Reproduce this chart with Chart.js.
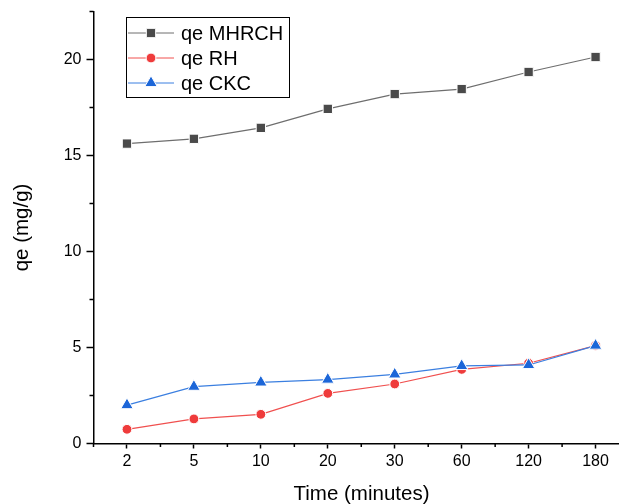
<!DOCTYPE html>
<html>
<head>
<meta charset="utf-8">
<script src="https://cdn.jsdelivr.net/npm/chart.js@4.4.1/dist/chart.umd.min.js"></script>
<style>
  html, body { margin: 0; padding: 0; background: #fff; }
  canvas { display: block; }
</style>
</head>
<body>
<canvas id="qe-chart" width="619" height="504"></canvas>
<script>
// contact time (min) and adsorbed amount for each adsorbent
const categories = ['2', '5', '10', '20', '30', '60', '120', '180'];
const qeMHRCH = [15.62, 15.87, 16.44, 17.43, 18.2, 18.46, 19.35, 20.13];
const qeRH = [0.74, 1.28, 1.52, 2.61, 3.1, 3.86, 4.18, 5.1];
const qeCKC = [2.0, 2.96, 3.18, 3.33, 3.6, 4.04, 4.09, 5.1];
const yTicks = [0, 5, 10, 15, 20];

const FONT = '"Liberation Sans", Arial, sans-serif';

const toPoints = arr => arr.map((v, i) => ({ x: i, y: v }));

// minor ticks, axis titles and the boxed legend
const extras = {
  id: 'extras',
  afterDraw(chart) {
    const ctx = chart.ctx;
    const x = chart.scales.x, y = chart.scales.y;
    const area = chart.chartArea;
    ctx.save();
    ctx.strokeStyle = '#000';
    ctx.lineWidth = 1.5;
    ctx.beginPath();
    for (let v = -0.5; v <= x.max; v += 1) {
      const px = x.getPixelForValue(v);
      ctx.moveTo(px, area.bottom);
      ctx.lineTo(px, area.bottom + 3.5);
    }
    for (let v = 2.5; v <= y.max; v += 5) {
      const py = y.getPixelForValue(v);
      ctx.moveTo(area.left, py);
      ctx.lineTo(area.left - 4, py);
    }
    ctx.stroke();

    // axis titles
    ctx.fillStyle = '#000';
    ctx.font = '20.5px ' + FONT;
    ctx.textAlign = 'center';
    ctx.textBaseline = 'middle';
    ctx.fillText('Time (minutes)', area.left + 268, 494);
    ctx.translate(22, (area.top + area.bottom) / 2);
    ctx.rotate(-Math.PI / 2);
    ctx.fillText('qe (mg/g)', 0, 0);
    ctx.restore();

    // legend
    ctx.save();
    const bx = 126, by = 17, bw = 163, bh = 80;
    ctx.strokeStyle = '#000';
    ctx.lineWidth = 1;
    ctx.strokeRect(bx + 0.5, by + 0.5, bw, bh);
    ctx.font = '20px ' + FONT;
    ctx.textAlign = 'left';
    ctx.textBaseline = 'middle';
    chart.data.datasets.forEach((ds, i) => {
      const ry = 33 + i * 25;
      ctx.strokeStyle = ds.borderColor;
      ctx.lineWidth = 1;
      ctx.beginPath();
      ctx.moveTo(128, ry);
      ctx.lineTo(174, ry);
      ctx.stroke();
      ctx.fillStyle = ds.pointBackgroundColor;
      ctx.strokeStyle = ds.pointBorderColor;
      ctx.lineWidth = ds.pointBorderWidth;
      Chart.helpers.drawPoint(ctx, { pointStyle: ds.pointStyle, radius: ds.pointRadius, borderWidth: ds.pointBorderWidth }, 151, ry);
      ctx.fillStyle = '#000';
      ctx.fillText(ds.label, 181, ry + 1);
    });
    ctx.restore();
  }
};

// keep the plot edges fixed regardless of label overhang
const noEdgePadding = s => {
  s.paddingLeft = 0;
  s.paddingRight = 0;
  s.paddingTop = 0;
  s.paddingBottom = 0;
};

new Chart(document.getElementById('qe-chart').getContext('2d'), {
  type: 'line',
  data: {
    datasets: [
      {
        label: 'qe MHRCH',
        data: toPoints(qeMHRCH),
        borderColor: '#6e6e6e',
        borderWidth: 1.2,
        pointStyle: 'rect',
        pointRadius: 6.6,
        pointBackgroundColor: '#4a4a4a',
        pointBorderColor: '#ffffff',
        pointBorderWidth: 1,
        order: 2
      },
      {
        label: 'qe RH',
        data: toPoints(qeRH),
        borderColor: '#f0504f',
        borderWidth: 1.2,
        pointStyle: 'circle',
        pointRadius: 4.9,
        pointBackgroundColor: '#ef3b3b',
        pointBorderColor: '#ffffff',
        pointBorderWidth: 1,
        order: 1
      },
      {
        label: 'qe CKC',
        data: toPoints(qeCKC),
        borderColor: '#3b7fe0',
        borderWidth: 1.2,
        pointStyle: 'triangle',
        pointRadius: 7.2,
        pointBackgroundColor: '#1c66d8',
        pointBorderColor: '#ffffff',
        pointBorderWidth: 1,
        order: 0
      }
    ]
  },
  options: {
    responsive: false,
    animation: false,
    devicePixelRatio: 1,
    layout: { autoPadding: false, padding: { top: 11.5, right: 0, left: 0, bottom: 0 } },
    plugins: {
      legend: { display: false },
      tooltip: { enabled: false }
    },
    scales: {
      x: {
        type: 'linear',
        min: -0.5,
        max: 7.35,
        afterBuildTicks: s => { s.ticks = categories.map((c, i) => ({ value: i })); },
        afterFit: s => { s.height = 60.5; noEdgePadding(s); },
        ticks: {
          callback: v => categories[v],
          color: '#000',
          font: { family: FONT, size: 16 },
          padding: 3,
          maxRotation: 0,
          autoSkip: false
        },
        grid: { drawOnChartArea: false, tickLength: 5, tickColor: '#000', tickWidth: 1.5 },
        border: { color: '#000', width: 1.5 }
      },
      y: {
        min: 0,
        max: 22.5,
        afterBuildTicks: s => { s.ticks = yTicks.map(v => ({ value: v })); },
        afterFit: s => { s.width = 93.5; noEdgePadding(s); },
        ticks: {
          color: '#000',
          font: { family: FONT, size: 16 },
          padding: 5
        },
        grid: { drawOnChartArea: false, tickLength: 7, tickColor: '#000', tickWidth: 1.5 },
        border: { color: '#000', width: 1.5 }
      }
    }
  },
  plugins: [extras]
});
</script>
</body>
</html>
